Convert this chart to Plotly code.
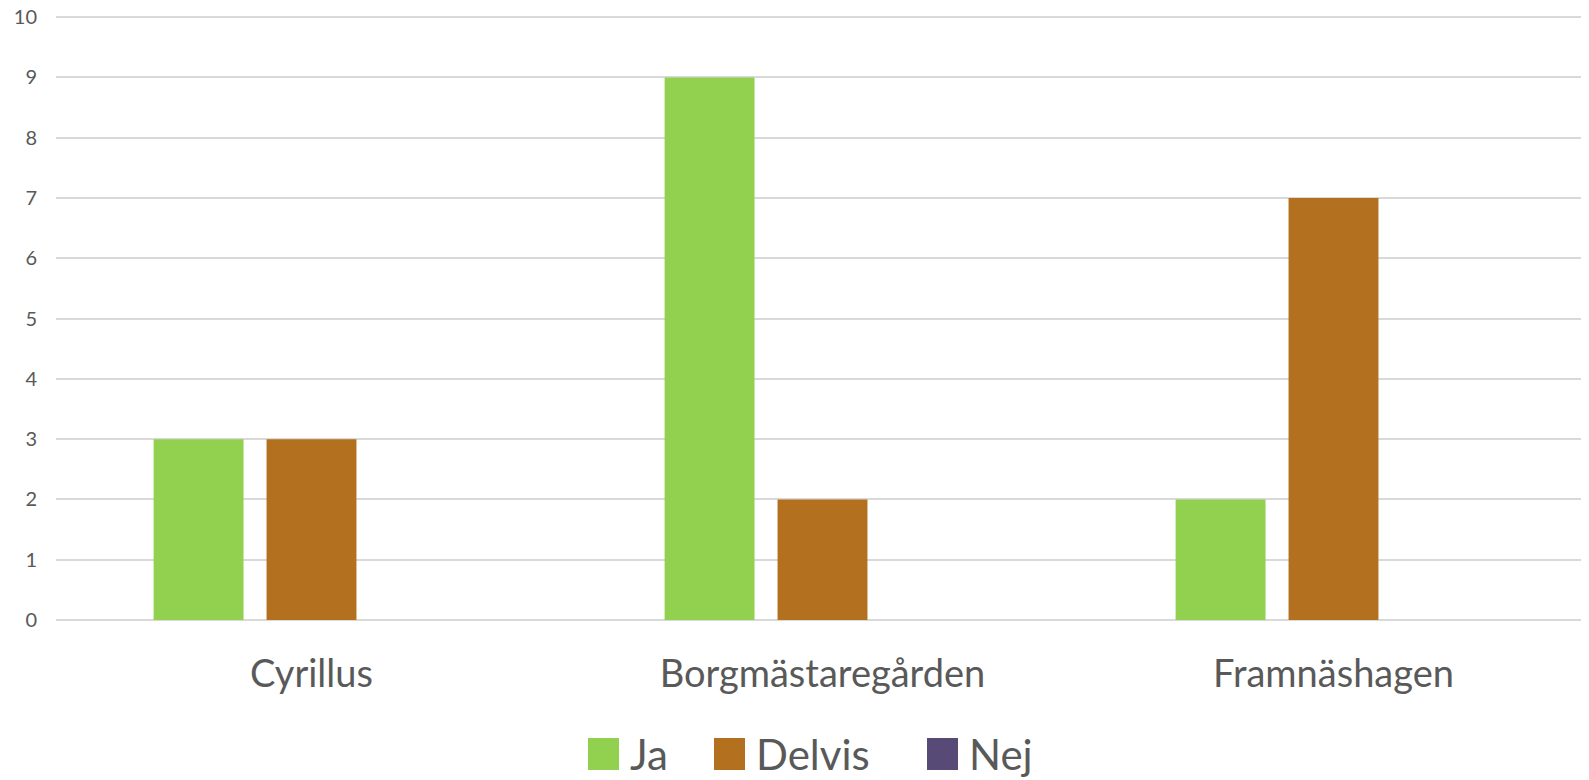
import plotly.graph_objects as go

categories = ["Cyrillus", "Borgmästaregården", "Framnäshagen"]
series_names = ["Ja", "Delvis", "Nej"]
ja = [3, 9, 2]
delvis = [3, 2, 7]
nej = [0, 0, 0]
colors = ["#92D050", "#B3701E", "#584A77"]
y_ticks = list(range(0, 11))

values = [ja, delvis, nej]
FONT = "Lato"
TXT = "#595959"

fig = go.Figure()
for name, vals, col in zip(series_names, values, colors):
    fig.add_trace(go.Bar(x=categories, y=vals, name=name, marker=dict(color=col, line=dict(width=0)),
                         showlegend=False))

# manual legend (large swatches like the original)
legend_x = [588, 714, 927]
for i, (name, col) in enumerate(zip(series_names, colors)):
    fig.add_shape(type="rect", xref="paper", yref="paper",
                  x0=(legend_x[i] - 56) / 1533, x1=(legend_x[i] + 31 - 56) / 1533,
                  y0=(620 - 770) / 604, y1=(620 - 738) / 604,
                  fillcolor=col, line=dict(width=0))
    fig.add_annotation(xref="paper", yref="paper", x=(legend_x[i] + 40 - 56) / 1533,
                       y=(620 - 754) / 604, xanchor="left", yanchor="middle",
                       text=name, showarrow=False,
                       font=dict(family=FONT, size=42, color=TXT))

# the page body has an 8px margin; compensate so the plot area lands where the original is
fig.update_layout(
    width=1581, height=772,
    margin=dict(l=48, r=0, t=8, b=160, autoexpand=False),
    paper_bgcolor="white", plot_bgcolor="white",
    barmode="group", bargap=0.337, bargroupgap=0.204,
    font=dict(family=FONT, color=TXT),
    showlegend=False,
)
fig.update_xaxes(showgrid=False, showline=False, ticks="", zeroline=False, automargin=False,
                 tickfont=dict(family=FONT, size=38, color=TXT), ticklabelstandoff=28)
fig.update_yaxes(range=[0, 10.02], tickvals=y_ticks, showgrid=True, gridcolor="#D9D9D9", gridwidth=2,
                 zeroline=True, zerolinecolor="#D9D9D9", zerolinewidth=2, showline=False, ticks="",
                 automargin=False, ticklabeloverflow="allow",
                 tickfont=dict(family=FONT, size=20, color=TXT), ticklabelstandoff=18)

fig.write_html("out.html")
